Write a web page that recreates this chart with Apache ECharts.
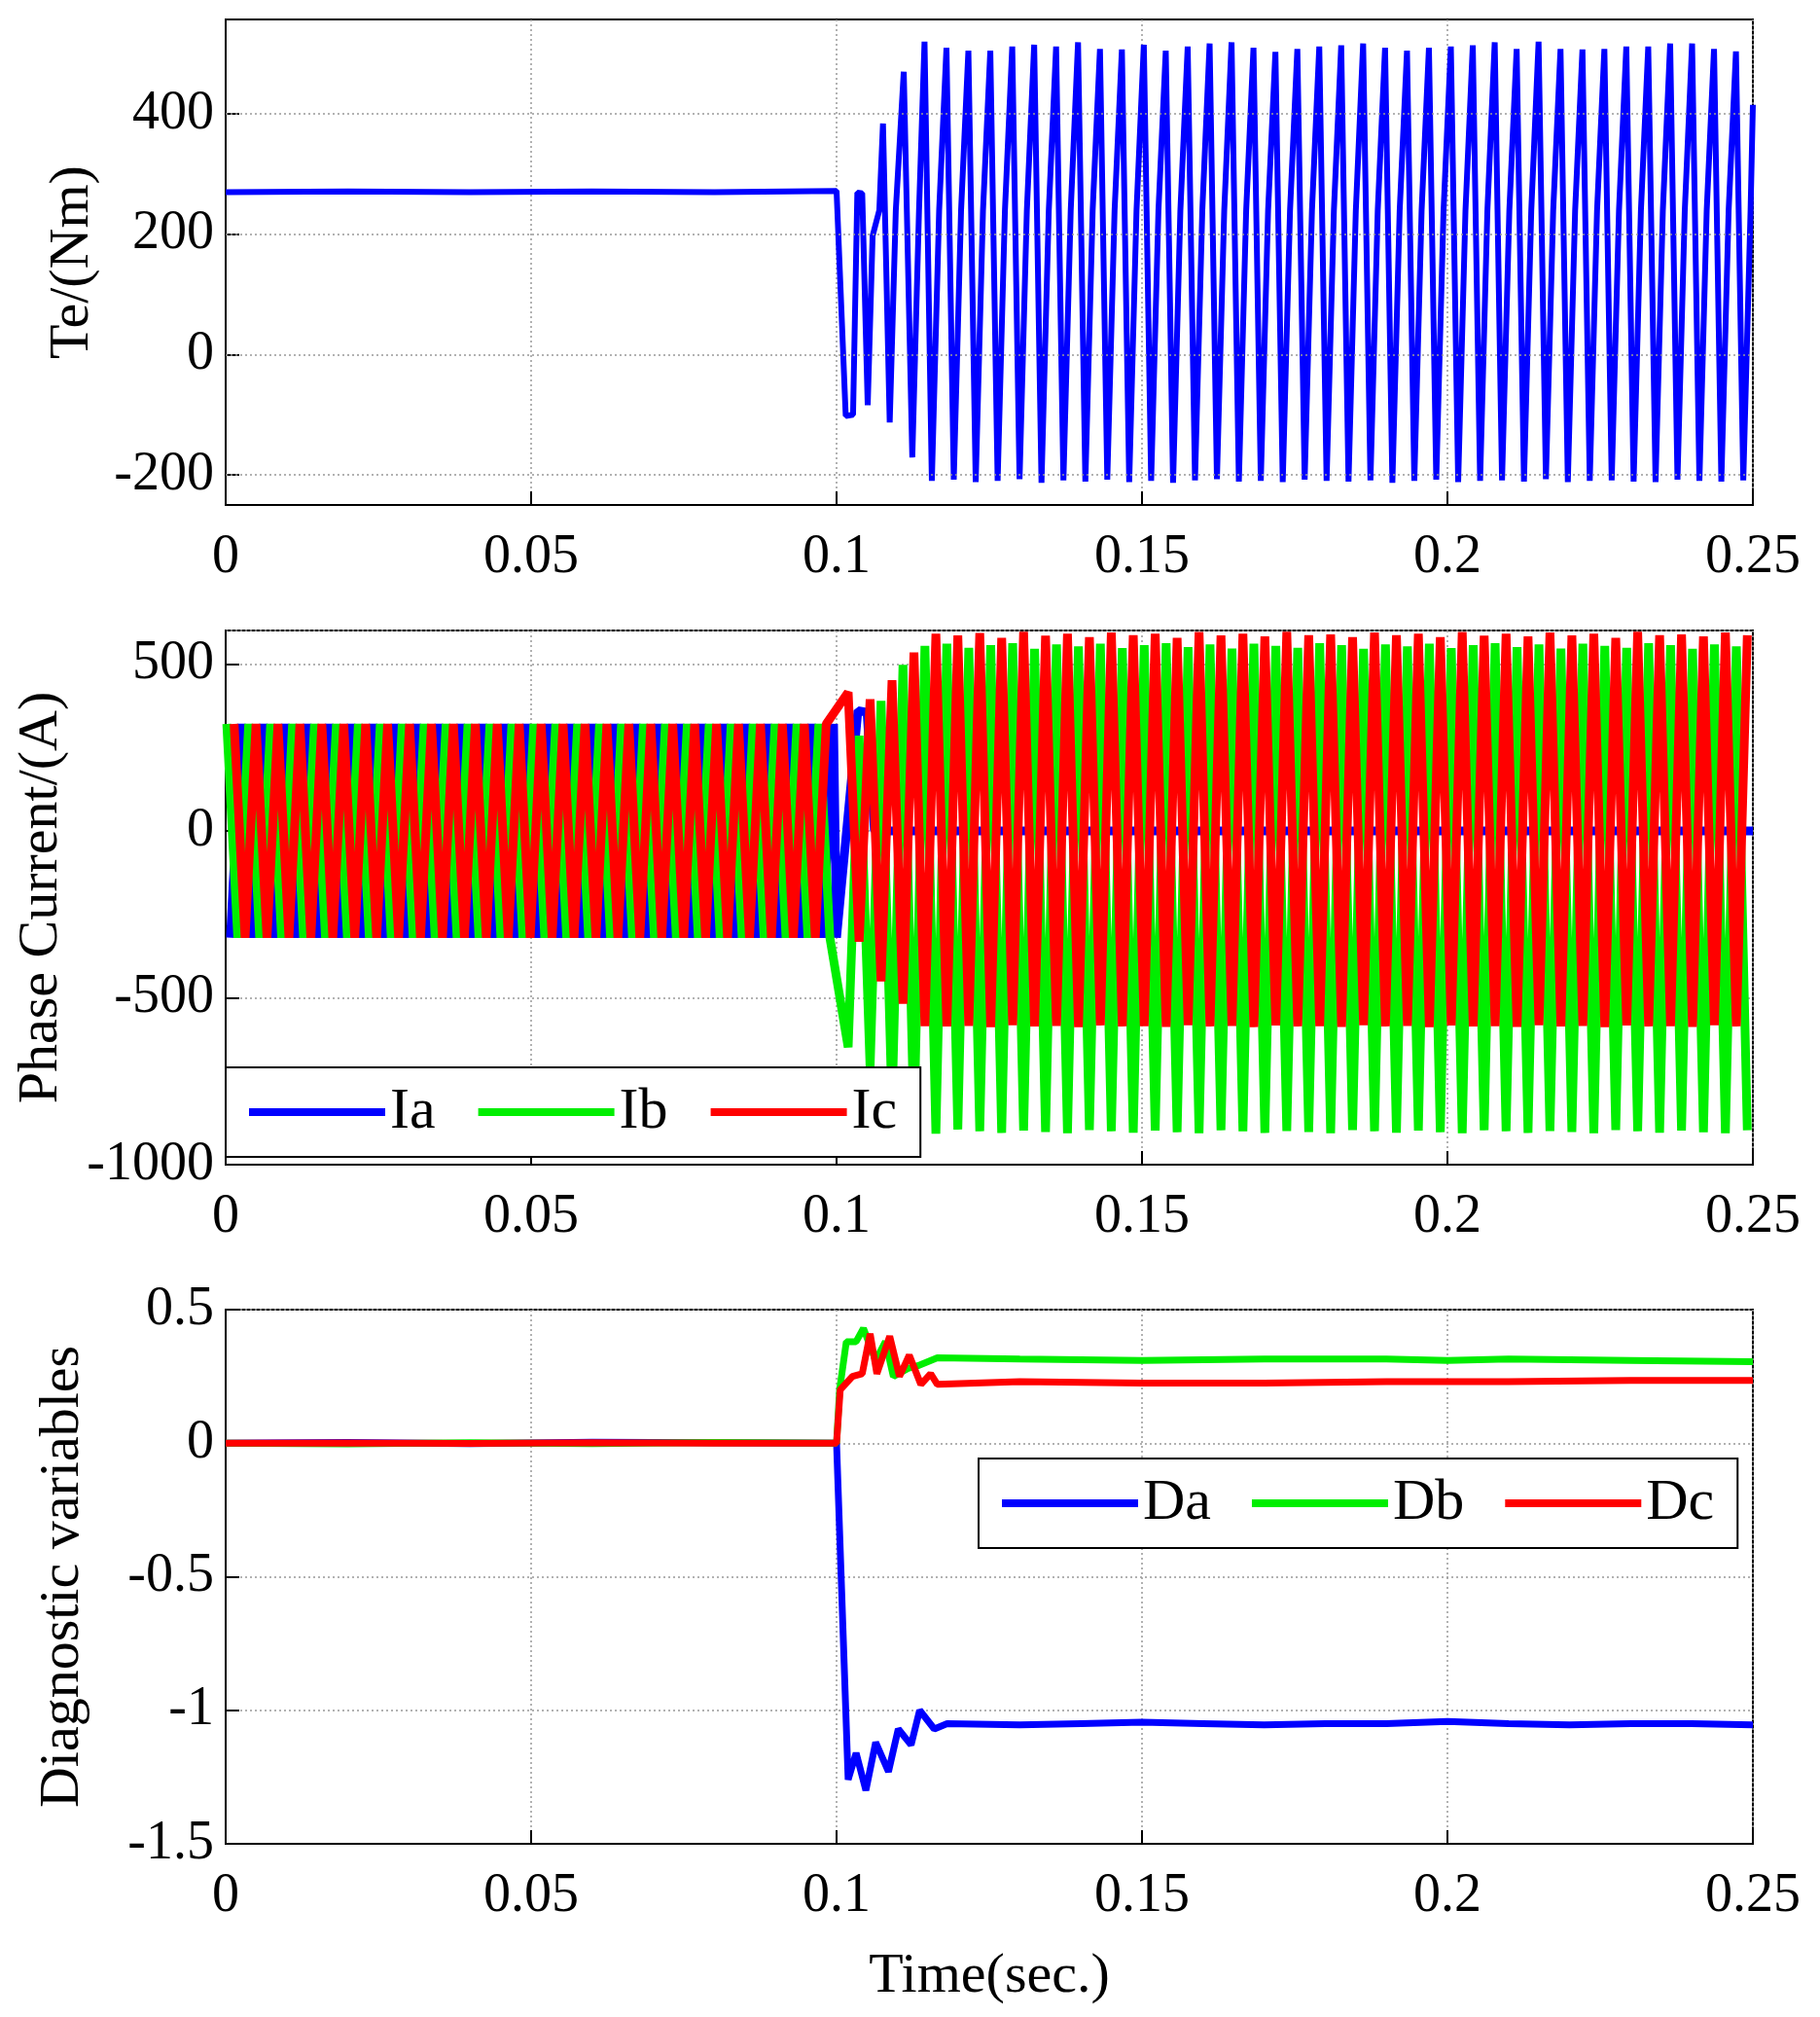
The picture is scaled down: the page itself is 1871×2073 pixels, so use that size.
<!DOCTYPE html>
<html>
<head>
<meta charset="utf-8">
<script src="https://cdn.jsdelivr.net/npm/echarts@6/dist/echarts.min.js"></script>
<style>
  html, body { margin: 0; padding: 0; background: #fff; }
  #chart { width: 1871px; height: 2073px; }
</style>
</head>
<body>
<div id="chart"></div>
<script>
// ---- data ----
var period = 0.00359;          // oscillation period (s)
var teBefore = [[0, 270], [0.02, 271], [0.04, 270], [0.06, 271], [0.08, 270], [0.1, 272]];
// torque transient right after the fault [t, Nm]
var teTransient = [[0.1002, 272], [0.1015, -102], [0.1027, -100], [0.1034, 269], [0.1042, 268],
  [0.1051, -84], [0.1059, 197], [0.1070, 240], [0.1076, 384], [0.1087, -113], [0.1097, 240],
  [0.1110, 470], [0.1124, -171], [0.1135, 240]];
var teFirstPeak = 0.1144;
var tePeaks = [520, 510, 505, 505, 512, 515, 512, 519, 508, 507, 515, 505, 512, 517, 519, 510, 503,
  508, 512, 514, 517, 510, 505, 510, 512, 514, 519, 508, 520, 508, 507, 508, 512, 512, 517, 517, 508, 504];
var teTroughs = [-210, -208, -212, -210, -207, -213, -209, -211, -208, -212, -210, -213, -209, -207,
  -211, -210, -212, -208, -210, -211, -209, -213, -210, -208, -212, -210, -209, -211, -207, -212,
  -210, -209, -211, -212, -208, -210, -211, -209];
var teEnd = [0.25, 415];

// phase currents: pre-fault amplitude, post-fault per-cycle extremes
var preAmp = 320;
var icFirstPeak = 0.1019;      // first post-fault Ic peak
var icPeaks = [415, 394, 451, 534, 590, 585, 592, 578, 596, 584, 590, 580, 594, 586, 590, 578, 595,
  585, 590, 582, 596, 586, 588, 580, 594, 586, 590, 580, 595, 584, 590, 582, 594, 585, 590, 578,
  596, 586, 588, 582, 594, 586];
var icTroughs = [-332, -451, -518, -585, -586, -584, -588, -582, -586, -584, -588, -583, -586, -585,
  -587, -582, -586, -584, -588, -583, -586, -585, -587, -582, -586, -584, -588, -583, -586, -585,
  -587, -582, -586, -584, -588, -583, -586, -585, -587, -582, -586, -584];
var ibTroughs = [-648, -710, -830, -880, -907, -895, -900, -905, -898, -902, -906, -896, -900, -904,
  -898, -903, -906, -897, -900, -905, -899, -902, -906, -896, -900, -904, -898, -903, -906, -897,
  -900, -905, -899, -902, -906, -896, -900, -904, -898, -903, -906, -897];
var ibPeaks = [285, 389, 497, 554, 560, 548, 556, 562, 545, 558, 552, 560, 547, 556, 562, 550, 558,
  546, 560, 554, 548, 562, 556, 545, 558, 552, 560, 547, 556, 562, 550, 558, 546, 560, 554, 548,
  562, 556, 545, 558, 552, 575];
var iaPost = [[0.1, -320], [0.1035, 360], [0.1050, 355], [0.1062, 0], [0.25, 0]];

// diagnostic variables [t, value]
var daData = [[0, 0], [0.02, 0.003], [0.04, -0.002], [0.06, 0.004], [0.08, 0.002], [0.1, 0],
  [0.1019, -1.26], [0.1032, -1.16], [0.1048, -1.30], [0.1064, -1.12], [0.1085, -1.23],
  [0.1101, -1.07], [0.1122, -1.13], [0.1136, -1.00], [0.1160, -1.07], [0.1181, -1.05],
  [0.13, -1.055], [0.14, -1.05], [0.15, -1.045], [0.16, -1.05], [0.17, -1.055], [0.18, -1.05],
  [0.19, -1.05], [0.2, -1.042], [0.21, -1.05], [0.22, -1.055], [0.23, -1.05], [0.24, -1.05], [0.25, -1.055]];
var dbData = [[0, 0], [0.02, -0.003], [0.04, 0.002], [0.06, -0.002], [0.08, 0.003], [0.1, 0],
  [0.1005, 0.20], [0.1016, 0.38], [0.1032, 0.38], [0.1044, 0.43], [0.1064, 0.31], [0.1080, 0.38],
  [0.1093, 0.25], [0.1117, 0.28], [0.1133, 0.29], [0.1165, 0.32], [0.13, 0.315], [0.15, 0.31],
  [0.17, 0.315], [0.19, 0.315], [0.2, 0.31], [0.21, 0.315], [0.23, 0.31], [0.25, 0.305]];
var dcData = [[0, 0], [0.02, 0.001], [0.04, -0.001], [0.06, 0.002], [0.08, 0], [0.1, 0],
  [0.1006, 0.20], [0.1026, 0.25], [0.1042, 0.26], [0.1055, 0.41], [0.1066, 0.26], [0.1087, 0.40],
  [0.1103, 0.25], [0.1119, 0.33], [0.1138, 0.22], [0.1154, 0.26], [0.1165, 0.22], [0.13, 0.23],
  [0.15, 0.225], [0.17, 0.225], [0.19, 0.23], [0.21, 0.23], [0.23, 0.235], [0.25, 0.235]];

// ---- build wave point lists from the read extremes ----
function teSeries() {
  var pts = teBefore.concat(teTransient);
  for (var k = 0; k < tePeaks.length; k++) {
    var t = teFirstPeak + k * period;
    pts.push([t, tePeaks[k]]);
    pts.push([t + period / 3, teTroughs[k]]);
    pts.push([t + period * 2 / 3, 240]);
  }
  pts.push(teEnd);
  return pts;
}
function prePhase(peakRef) {
  // alternating peaks/troughs before the fault, ending at 0.1
  var pts = [];
  var t = peakRef;
  while (t > 0) t -= period;
  var sign = 1;
  for (; t < 0.1; t += period / 2) {
    if (t >= 0) pts.push([t, sign * preAmp]);
    sign = -sign;
  }
  return pts;
}
function postPhase(pts, startT, hi, lo, hiFirst) {
  for (var k = 0; k < hi.length; k++) {
    var t = startT + k * period;
    var a = hiFirst ? hi[k] : lo[k];
    var b = hiFirst ? lo[k] : hi[k];
    if (t <= 0.25) pts.push([t, a]);
    if (t + period / 2 <= 0.25) pts.push([t + period / 2, b]);
  }
  return pts;
}
var icPts = postPhase(prePhase(icFirstPeak - period), icFirstPeak, icPeaks, icTroughs, true);
var ibPts = postPhase(prePhase(icFirstPeak - period / 3), icFirstPeak, ibPeaks, ibTroughs, false);
var iaPts = prePhase(icFirstPeak + period / 3).concat(iaPost);

// ---- chart ----
var font = 'Liberation Serif';
var grids = [
  { top: 20, height: 499 },
  { top: 648, height: 549 },
  { top: 1346, height: 549 }
];
var gridLine = { show: true, lineStyle: { color: '#999', type: [2, 3], width: 1.5 } };
function xAxis(i) {
  return {
    gridIndex: i, type: 'value', min: 0, max: 0.25, interval: 0.05,
    axisLine: { onZero: false, lineStyle: { color: '#000', width: 2 } },
    axisTick: { inside: true, length: 14, lineStyle: { color: '#000', width: 2 } },
    axisLabel: { color: '#000', fontFamily: font, fontSize: 56, margin: 26 },
    splitLine: gridLine,
    name: i === 2 ? 'Time(sec.)' : '', nameLocation: 'middle', nameGap: 108,
    nameTextStyle: { color: '#000', fontFamily: font, fontSize: 58 }
  };
}
function yAxis(i, name, opts) {
  var base = {
    gridIndex: i, type: 'value', name: name, nameLocation: 'middle',
    nameTextStyle: { color: '#000', fontFamily: font, fontSize: 58 },
    axisLine: { show: true, onZero: false, lineStyle: { color: '#000', width: 2 } },
    axisTick: { inside: true, length: 14, lineStyle: { color: '#000', width: 2 } },
    axisLabel: { color: '#000', fontFamily: font, fontSize: 56, margin: 12 },
    splitLine: gridLine
  };
  for (var k in opts) base[k] = opts[k];
  return base;
}
function line(name, i, data, color, width) {
  return {
    name: name, type: 'line', xAxisIndex: i, yAxisIndex: i, data: data,
    showSymbol: false, symbol: 'none', animation: false,
    lineStyle: { color: color, width: width }, itemStyle: { color: color }
  };
}
function legendBox(names, left, top, gap) {
  return {
    data: names, left: left, top: top, orient: 'horizontal',
    backgroundColor: '#fff', borderColor: '#000', borderWidth: 2,
    padding: [16, 24, 16, 24], itemGap: gap, itemWidth: 140, itemHeight: 8,
    textStyle: { color: '#000', fontFamily: font, fontSize: 60 },
    icon: 'rect'
  };
}

var myChart = echarts.init(document.getElementById('chart'));
var teSer = line('Te', 0, teSeries(), '#0000ff', 6);
teSer.markLine = {
  silent: true, symbol: 'none', label: { show: false },
  lineStyle: { color: '#999', type: [2, 3], width: 1.5 },
  data: [{ yAxis: -200 }, { yAxis: 0 }, { yAxis: 200 }, { yAxis: 400 }]
};
var option = {
  backgroundColor: '#fff',
  animation: false,
  grid: grids.map(function (g) {
    return { left: 232, right: 69, top: g.top, height: g.height, show: true,
      borderColor: '#000', borderWidth: 2, backgroundColor: '#fff' };
  }),
  xAxis: [xAxis(0), xAxis(1), xAxis(2)],
  yAxis: [
    yAxis(0, 'Te/(Nm)', {
      min: -250, max: 557, nameGap: 128,
      axisLabel: { color: '#000', fontFamily: font, fontSize: 56, margin: 12, customValues: [-200, 0, 200, 400] },
      axisTick: { inside: true, length: 14, lineStyle: { color: '#000', width: 2 }, customValues: [-200, 0, 200, 400] },
      splitLine: { show: false }
    }),
    yAxis(1, 'Phase Current/(A)', {
      min: -1000, max: 600, interval: 500, nameGap: 160,
      axisLabel: { color: '#000', fontFamily: font, fontSize: 56, margin: 12, showMaxLabel: false,
        formatter: function (v) { return String(v); } }
    }),
    yAxis(2, 'Diagnostic variables', { min: -1.5, max: 0.5, interval: 0.5, nameGap: 138 })
  ],
  legend: [
    legendBox(['Ia', 'Ib', 'Ic'], 232, 1097, 44),
    legendBox(['Da', 'Db', 'Dc'], 1006, 1499, 42)
  ],
  series: [
    teSer,
    line('Ia', 1, iaPts, '#0000ff', 9),
    line('Ib', 1, ibPts, '#00ee00', 9),
    line('Ic', 1, icPts, '#ff0000', 9),
    line('Da', 2, daData, '#0000ff', 7),
    line('Db', 2, dbData, '#00ee00', 7),
    line('Dc', 2, dcData, '#ff0000', 7)
  ]
};
myChart.setOption(option);
window.addEventListener('resize', function () {
  myChart.resize();
});
</script>
</body>
</html>
